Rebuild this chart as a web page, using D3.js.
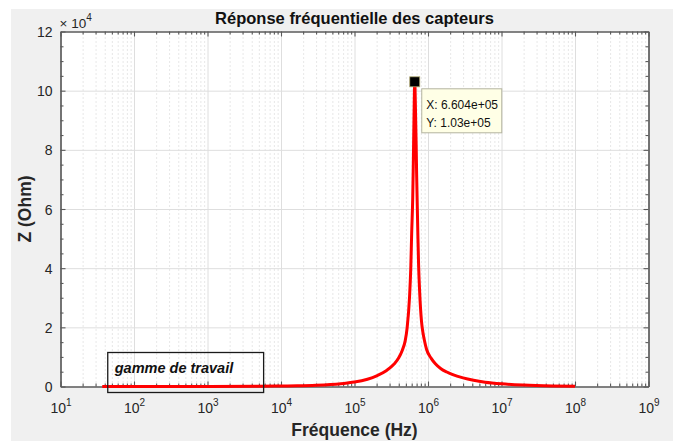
<!DOCTYPE html>
<html><head><meta charset="utf-8">
<script src="https://cdn.jsdelivr.net/npm/d3@7"></script>
<style>
body{margin:0;background:#fff}
svg{display:block}
text{font-family:"Liberation Sans",Arial,Helvetica,sans-serif}
</style>
</head><body>
<svg id="chart" width="679" height="441"></svg>
<script>
// ---- data ----
const frequencies = [37, 100, 1e3, 5e3, 1e4, 1.66e4, 3e4, 4.7e4, 6.5e4, 8e4, 1e5, 1.5e5, 2.04e5, 2.7e5, 3.43e5, 4e5, 4.46e5, 4.9e5, 5.21e5, 5.6e5, 5.83e5, 6.0e5, 6.2e5, 6.3e5, 6.45e5, 6.604e5, 6.75e5, 6.9e5, 7.0e5, 7.3e5, 7.45e5, 7.7e5, 8.16e5, 8.5e5, 8.9e5, 9.55e5, 1.1e6, 1.26e6, 1.5e6, 1.8e6, 2.13e6, 3e6, 4.16e6, 6e6, 1e7, 2e7, 5e7, 1e8];
const impedances  = [1, 2, 15, 75, 150, 230, 420, 680, 960, 1200, 1500, 2450, 3700, 5300, 7500, 9700, 12200, 15500, 20000, 30000, 40000, 52000, 64000, 74000, 91000, 103000, 94000, 82000, 72000, 50000, 41000, 32000, 22000, 18500, 15800, 12600, 9600, 7700, 6000, 4900, 4100, 2900, 2100, 1450, 900, 480, 200, 100];
const xTickExponents = [1, 2, 3, 4, 5, 6, 7, 8, 9];
const yTickValues = [0, 2e4, 4e4, 6e4, 8e4, 10e4, 12e4];
const yTickLabels = ["0", "2", "4", "6", "8", "10", "12"];
const yExponent = "4";
const peakFrequency = 6.604e5;
const peakImpedance = 1.03e5;
const tipLines = ["X: 6.604e+05", "Y: 1.03e+05"];
const titleText = "Réponse fréquentielle des capteurs";
const xLabelText = "Fréquence (Hz)";
const yLabelText = "Z (Ohm)";
const rangeLabel = "gamme de travail";
const rangeFrom = 40, rangeTo = 5800;   // frequency extent of the working-range box

// ---- layout ----
const svg = d3.select("#chart");
const L = 60.5, R = 648.5, T = 31.5, B = 386.5;
const x = d3.scaleLog().domain([1e1, 1e9]).range([L, R]);
const y = d3.scaleLinear().domain([0, 12e4]).range([B, T]);
const axisCol = "#5a5a5a", textCol = "#262626";

// figure background
svg.append("rect").attr("x", 11).attr("y", 9).attr("width", 662).attr("height", 432).attr("fill", "#f0f0f0");
svg.append("rect").attr("x", L).attr("y", T).attr("width", R - L).attr("height", B - T).attr("fill", "#fff");

const majorX = xTickExponents.map(e => Math.pow(10, e));
const minorX = [];
xTickExponents.slice(0, -1).forEach(e => { for (let k = 2; k <= 9; k++) minorX.push(k * Math.pow(10, e)); });
const minorY = d3.range(0, 12e4 + 1, 5e3).filter(v => v % 2e4 !== 0);

// minor vertical grid (dotted)
svg.append("g").attr("transform", `translate(0,${B})`)
  .call(d3.axisBottom(x).tickValues(minorX).tickSize(-(B - T)).tickSizeOuter(0).tickFormat(""))
  .call(g => g.select(".domain").remove())
  .call(g => g.selectAll("line").attr("stroke", "#c4c4c4").attr("stroke-dasharray", "1,3").attr("stroke-width", 0.8));
// major grid
svg.append("g").attr("transform", `translate(0,${B})`)
  .call(d3.axisBottom(x).tickValues(majorX.slice(1, -1)).tickSize(-(B - T)).tickSizeOuter(0).tickFormat(""))
  .call(g => g.select(".domain").remove())
  .call(g => g.selectAll("line").attr("stroke", "#dedede"));
svg.append("g").attr("transform", `translate(${L},0)`)
  .call(d3.axisLeft(y).tickValues(yTickValues.slice(1, -1)).tickSize(-(R - L)).tickSizeOuter(0).tickFormat(""))
  .call(g => g.select(".domain").remove())
  .call(g => g.selectAll("line").attr("stroke", "#dedede"));

// axes (ticks inward, box on)
function styleAxis(g) {
  g.select(".domain").attr("stroke", axisCol).attr("stroke-width", 1.2);
  g.selectAll(".tick line").attr("stroke", axisCol).attr("stroke-width", 1.1);
}
svg.append("g").attr("transform", `translate(0,${B})`)
  .call(d3.axisBottom(x).tickValues(minorX).tickSize(-3).tickSizeOuter(0).tickFormat("")).call(styleAxis);
const gxb = svg.append("g").attr("transform", `translate(0,${B})`)
  .call(d3.axisBottom(x).tickValues(majorX).tickSize(-5).tickSizeOuter(0).tickFormat("")).call(styleAxis);
svg.append("g").attr("transform", `translate(0,${T})`)
  .call(d3.axisTop(x).tickValues(minorX).tickSize(-3).tickSizeOuter(0).tickFormat("")).call(styleAxis);
svg.append("g").attr("transform", `translate(0,${T})`)
  .call(d3.axisTop(x).tickValues(majorX).tickSize(-5).tickSizeOuter(0).tickFormat("")).call(styleAxis);
svg.append("g").attr("transform", `translate(${L},0)`)
  .call(d3.axisLeft(y).tickValues(minorY).tickSize(-3).tickSizeOuter(0).tickFormat("")).call(styleAxis);
const gyl = svg.append("g").attr("transform", `translate(${L},0)`)
  .call(d3.axisLeft(y).tickValues(yTickValues).tickSize(-5).tickSizeOuter(0).tickFormat("")).call(styleAxis);
svg.append("g").attr("transform", `translate(${R},0)`)
  .call(d3.axisRight(y).tickValues(minorY).tickSize(-3).tickSizeOuter(0).tickFormat("")).call(styleAxis);
svg.append("g").attr("transform", `translate(${R},0)`)
  .call(d3.axisRight(y).tickValues(yTickValues).tickSize(-5).tickSizeOuter(0).tickFormat("")).call(styleAxis);

// x tick labels 10^n
gxb.selectAll(".tick").append("text")
  .attr("y", 26).attr("fill", textCol).attr("font-size", 14).attr("text-anchor", "middle")
  .each(function(d) {
    const t = d3.select(this);
    t.append("tspan").text("10");
    t.append("tspan").attr("dy", -7).attr("font-size", 10).text(Math.round(Math.log10(d)));
  });
// y tick labels
gyl.selectAll(".tick").append("text")
  .attr("x", -8).attr("dy", "0.36em").attr("fill", textCol).attr("font-size", 14).attr("text-anchor", "end")
  .text((d, i) => yTickLabels[i]);
// exponent ×10^4
const ex = svg.append("text").attr("x", L - 1).attr("y", 28).attr("fill", textCol).attr("font-size", 13.5);
ex.append("tspan").text("× 10");
ex.append("tspan").attr("dy", -7).attr("font-size", 10).text(yExponent);

// curve
const line = d3.line().x((d, i) => x(frequencies[i])).y((d, i) => y(impedances[i])).curve(d3.curveMonotoneX);
svg.append("path").datum(impedances).attr("d", line)
  .attr("fill", "none").attr("stroke", "#ff0000").attr("stroke-width", 3).attr("stroke-linejoin", "round");

// working range annotation
const bx0 = x(rangeFrom) + 3, bx1 = x(rangeTo);
svg.append("rect").attr("x", bx0).attr("y", 352.5).attr("width", bx1 - bx0).attr("height", 40)
  .attr("fill", "none").attr("stroke", "#1a1a1a").attr("stroke-width", 1.3);
svg.append("text").attr("x", bx0 + 7).attr("y", 373).attr("font-size", 14.5).attr("font-weight", "bold")
  .attr("font-style", "italic").attr("fill", "#111").text(rangeLabel);

// data tip
const px = x(peakFrequency), py = y(peakImpedance);
svg.append("rect").attr("x", px + 7).attr("y", py + 7).attr("width", 80).attr("height", 44)
  .attr("fill", "#ffffe6").attr("stroke", "#b4b4a0").attr("stroke-width", 1);
svg.selectAll(".tip").data(tipLines).enter().append("text")
  .attr("x", px + 11.5).attr("y", (d, i) => py + 27 + i * 18).attr("font-size", 12).attr("fill", "#111").text(d => d);
svg.append("rect").attr("x", px - 5).attr("y", py - 5).attr("width", 10).attr("height", 10)
  .attr("fill", "#000").attr("stroke", "#b0a870").attr("stroke-width", 0.8);

// titles
svg.append("text").attr("x", (L + R) / 2).attr("y", 24).attr("text-anchor", "middle").attr("font-size", 16.5)
  .attr("font-weight", "bold").attr("fill", "#111").text(titleText);
svg.append("text").attr("x", (L + R) / 2).attr("y", 436).attr("text-anchor", "middle").attr("font-size", 17.5)
  .attr("font-weight", "bold").attr("fill", textCol).text(xLabelText);
svg.append("text").attr("transform", `translate(31,${(T + B) / 2}) rotate(-90)`).attr("text-anchor", "middle")
  .attr("font-size", 17.5).attr("font-weight", "bold").attr("fill", textCol).text(yLabelText);
</script>
</body></html>
